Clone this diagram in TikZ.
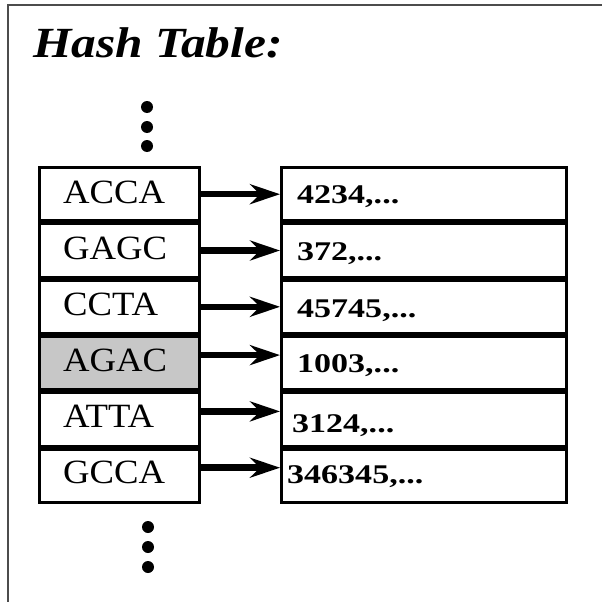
\documentclass[tikz,border=0pt]{standalone}
\usepackage{fontspec}
\setmainfont{Liberation Serif}
\usetikzlibrary{arrows.meta}
\begin{document}
\begin{tikzpicture}[x=1pt,y=-1pt,
 cell/.style={draw=black, line width=3pt, minimum height=53.3pt, inner sep=0pt},
 lcell/.style={cell, minimum width=160pt},
 rcell/.style={cell, minimum width=285pt},
 ltext/.style={anchor=base west, inner sep=0pt, font=\fontsize{34}{37}\selectfont},
 rtext/.style={anchor=base west, inner sep=0pt, font=\fontsize{27}{30}\selectfont\bfseries},
 arr/.style={line width=6.5pt, -{Stealth[length=30pt,width=20pt,inset=10pt]}},
 dotn/.style={circle, fill=black, minimum size=12pt, inner sep=0pt}]
\useasboundingbox (0,0) rectangle (602,602);
\draw[line width=2pt, draw=black!70] (602,5) -- (8,5) -- (8,602);
\node[anchor=base west, inner sep=0pt, font=\fontsize{43}{47}\selectfont\bfseries\itshape] (title) at (33,58) {\scalebox{1.15}[1]{Hash Table:}};
% top dots
\node[dotn] (d1) at (147,107) {};
\node[dotn] (d2) at (147,127) {};
\node[dotn] (d3) at (147,146) {};
% cells
\node[lcell] (l1) at (119.5,194.2) {};
\node[lcell] (l2) at (119.5,250.5) {};
\node[lcell] (l3) at (119.5,306.8) {};
\node[lcell, fill=black!22] (l4) at (119.5,363.1) {};
\node[lcell] (l5) at (119.5,419.4) {};
\node[lcell] (l6) at (119.5,475.7) {};
\node[rcell] (r1) at (424,194.2) {};
\node[rcell] (r2) at (424,250.5) {};
\node[rcell] (r3) at (424,306.8) {};
\node[rcell] (r4) at (424,363.1) {};
\node[rcell] (r5) at (424,419.4) {};
\node[rcell] (r6) at (424,475.7) {};
% left texts
\node[ltext] (lt1) at (63,203) {\scalebox{1.08}[1]{ACCA}};
\node[ltext] (lt2) at (63,259) {\scalebox{1.08}[1]{GAGC}};
\node[ltext] (lt3) at (63,315) {\scalebox{1.08}[1]{CCTA}};
\node[ltext] (lt4) at (63,371) {\scalebox{1.08}[1]{AGAC}};
\node[ltext] (lt5) at (63,427) {\scalebox{1.08}[1]{ATTA}};
\node[ltext] (lt6) at (63,483) {\scalebox{1.08}[1]{GCCA}};
% right texts
\node[rtext] (rt1) at (297,203) {\scalebox{1.26}[1]{4234,...}};
\node[rtext] (rt2) at (297,260) {\scalebox{1.26}[1]{372,...}};
\node[rtext] (rt3) at (297,317) {\scalebox{1.26}[1]{45745,...}};
\node[rtext] (rt4) at (297,372) {\scalebox{1.26}[1]{1003,...}};
\node[rtext] (rt5) at (292,432) {\scalebox{1.26}[1]{3124,...}};
\node[rtext] (rt6) at (287,483) {\scalebox{1.26}[1]{346345,...}};
% arrows
\draw[arr] (l1.east) -- (r1.west);
\draw[arr] (l2.east) -- (r2.west);
\draw[arr] (l3.east) -- (r3.west);
\draw[arr] ([yshift=8pt]l4.east) -- ([yshift=8pt]r4.west);
\draw[arr] ([yshift=8pt]l5.east) -- ([yshift=8pt]r5.west);
\draw[arr] ([yshift=8pt]l6.east) -- ([yshift=8pt]r6.west);
% bottom dots
\node[dotn] (d4) at (148,527) {};
\node[dotn] (d5) at (148,547) {};
\node[dotn] (d6) at (148,567) {};
\end{tikzpicture}
\end{document}
